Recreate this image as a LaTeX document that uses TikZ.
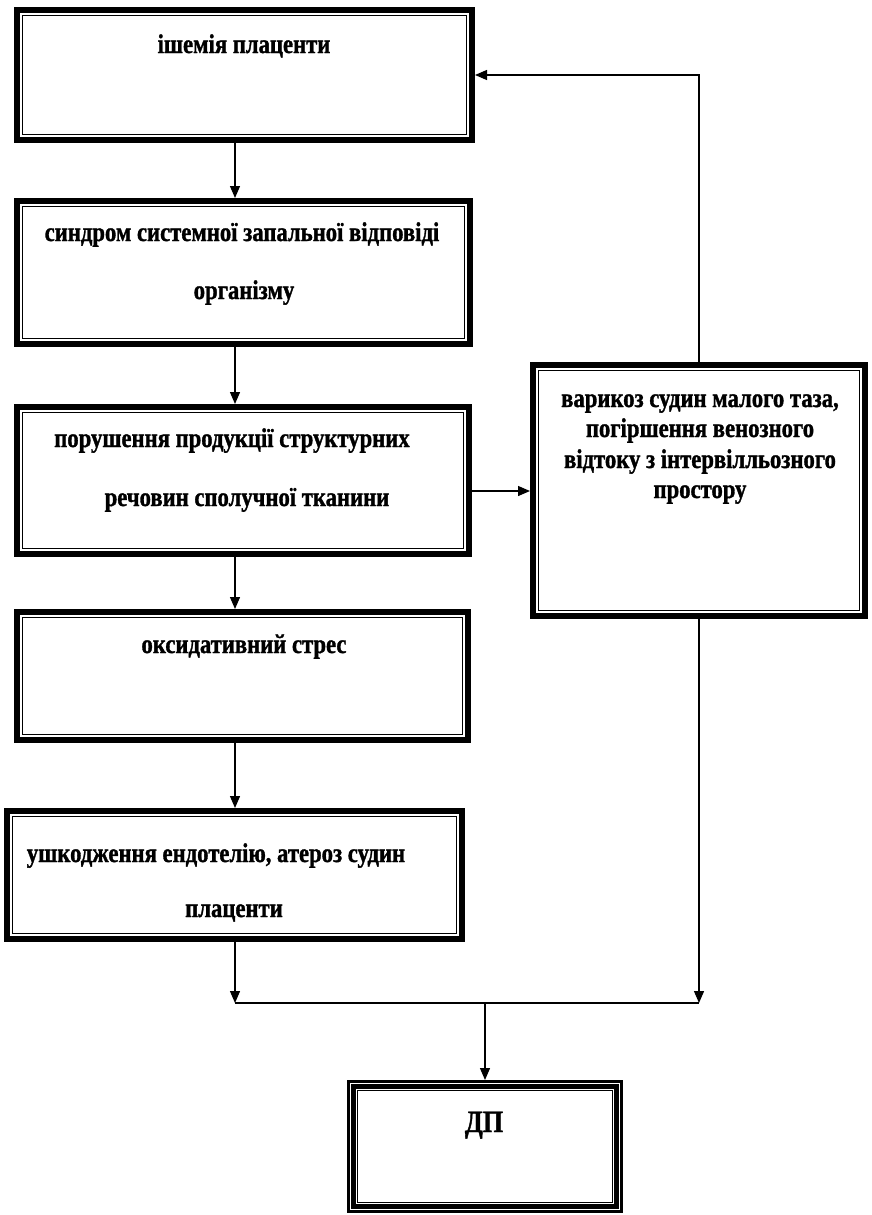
\documentclass[tikz,border=0pt]{standalone}
\usepackage{fontspec}
\setmainfont{Liberation Serif}
\newfontfamily\narrowserif[FakeStretch=0.84,FakeBold=1.2]{Liberation Serif}
\usetikzlibrary{arrows.meta,calc}
\tikzset{
  area/.style={rectangle, draw=none, inner sep=0pt, outer sep=0pt, anchor=north west},
  conn/.style={line width=1.3pt},
  arr/.style={conn, -{Triangle[length=12pt,width=10pt]}},
  lbl/.style={anchor=base, inner sep=0pt, font=\narrowserif\fontsize{27}{30}\selectfont\bfseries},
  thickframe/.style={line width=6.4pt},
  thinframe/.style={line width=1.5pt},
}
\newcommand\frameA[1]{%
  \draw[thickframe] ([shift={(3.2pt,-3.2pt)}]#1.north west) rectangle ([shift={(-3.2pt,3.2pt)}]#1.south east);
  \draw[thinframe] ([shift={(8.6pt,-8.6pt)}]#1.north west) rectangle ([shift={(-8.6pt,8.6pt)}]#1.south east);}
\newcommand\frameB[1]{%
  \draw[line width=3pt] ([shift={(1.5pt,-1.5pt)}]#1.north west) rectangle ([shift={(-1.5pt,1.5pt)}]#1.south east);
  \draw[line width=4.5pt] ([shift={(6.6pt,-6.6pt)}]#1.north west) rectangle ([shift={(-6.6pt,6.6pt)}]#1.south east);
  \draw[line width=1.2pt] ([shift={(10.6pt,-10.6pt)}]#1.north west) rectangle ([shift={(-10.6pt,10.6pt)}]#1.south east);}
\begin{document}
\begin{tikzpicture}[x=1pt,y=-1pt]
\useasboundingbox (0,0) rectangle (871,1215);
% boxes
\node[area, minimum width=461pt, minimum height=136pt] (b1) at (14,7) {};
\node[area, minimum width=459pt, minimum height=149pt] (b2) at (14,198) {};
\node[area, minimum width=458pt, minimum height=153pt] (b3) at (14,404) {};
\node[area, minimum width=457pt, minimum height=134pt] (b4) at (14,609) {};
\node[area, minimum width=461pt, minimum height=134pt] (b5) at (4,808) {};
\node[area, minimum width=338pt, minimum height=257pt] (b6) at (530,362) {};
\node[area, minimum width=276pt, minimum height=133pt] (dp) at (347,1080) {};
\frameA{b1}\frameA{b2}\frameA{b3}\frameA{b4}\frameA{b5}\frameA{b6}
\frameB{dp}
% texts
\node[lbl] (t1) at (244,53) {ішемія плаценти};
\node[lbl] (t2a) at (242,241) {синдром системної запальної відповіді};
\node[lbl] (t2b) at (244,299) {організму};
\node[lbl] (t3a) at (232,447) {порушення продукції структурних};
\node[lbl] (t3b) at (247,506) {речовин сполучної тканини};
\node[lbl] (t4) at (244,653) {оксидативний стрес};
\node[lbl] (t5a) at (216,862) {ушкодження ендотелію, атероз судин};
\node[lbl] (t5b) at (234,917) {плаценти};
\node[lbl] (t6a) at (700,407) {варикоз судин малого таза,};
\node[lbl] (t6b) at (700,437) {погіршення венозного};
\node[lbl] (t6c) at (700,468) {відтоку з інтервілльозного};
\node[lbl] (t6d) at (700,498) {простору};
\node[lbl, font=\narrowserif\fontsize{31}{34}\selectfont\bfseries] (t7) at (484,1132) {ДП};
% connectors
\coordinate (c) at (235,0);
\coordinate (m) at (0,491);
\coordinate (jl) at (235,1003);
\coordinate (jr) at (b6.south |- jl);
\coordinate (jm) at (dp.north |- jl);
\draw[arr] (c |- b1.south) -- (c |- b2.north);
\draw[arr] (c |- b2.south) -- (c |- b3.north);
\draw[arr] (c |- b3.south) -- (c |- b4.north);
\draw[arr] (c |- b4.south) -- (c |- b5.north);
\draw[arr] (c |- b5.south) -- (jl);
\draw[arr] (b6.south) -- (jr);
\draw[conn] (jl) -- (jr);
\draw[arr] (jm) -- (dp.north);
\draw[arr] (b3.east |- m) -- (b6.west |- m);
\draw[arr] (b6.north) |- (b1.east);
\end{tikzpicture}
\end{document}
